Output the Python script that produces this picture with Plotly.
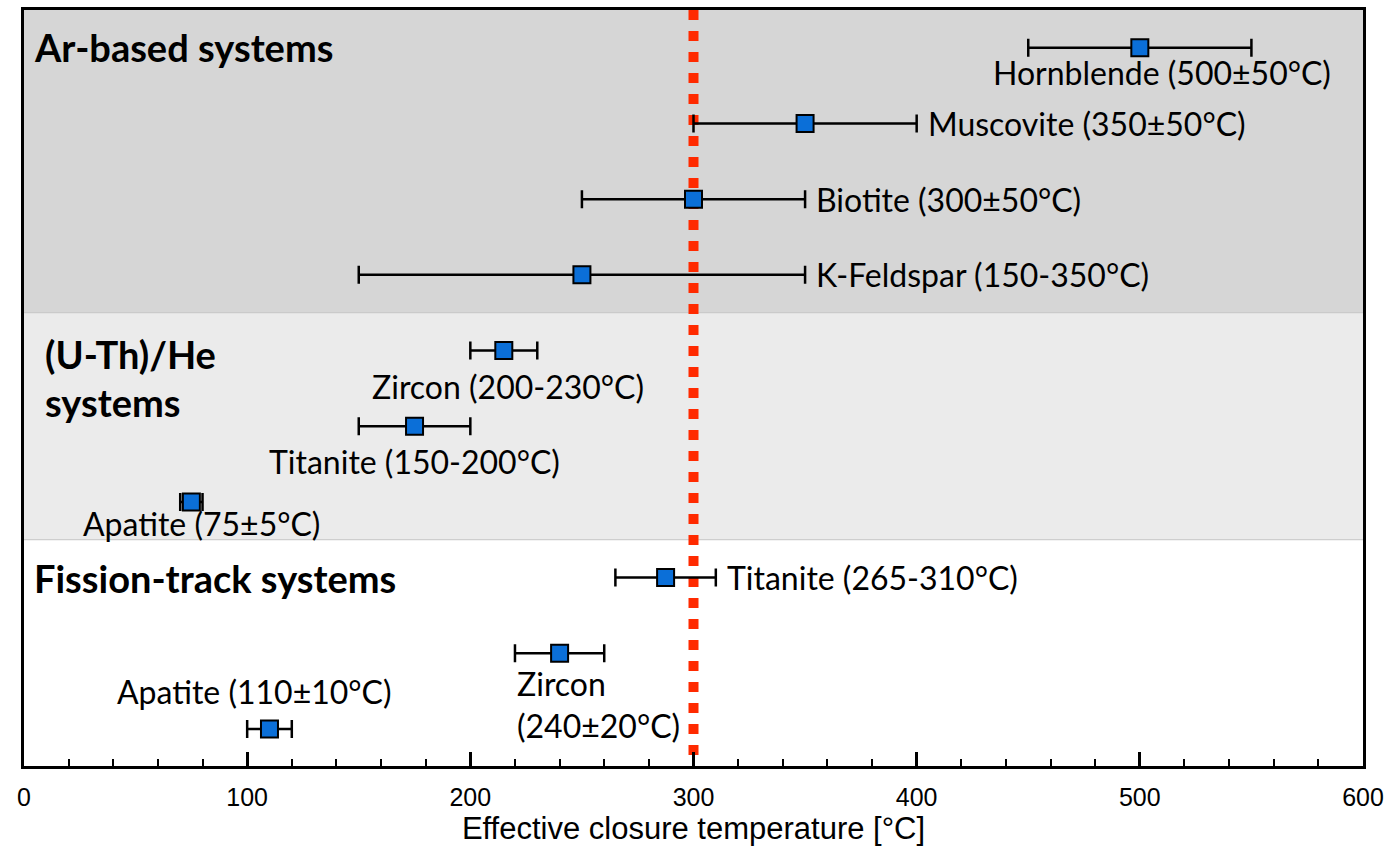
import plotly.graph_objects as go

# ---------------- data ----------------
minerals = ["Hornblende", "Muscovite", "Biotite", "K-Feldspar",
            "Zircon", "Titanite", "Apatite",
            "Titanite", "Zircon", "Apatite"]
temps = [500, 350, 300, 250, 215, 175, 75, 287.5, 240, 110]
t_low = [450, 300, 250, 150, 200, 150, 70, 265, 220, 100]
t_high = [550, 400, 350, 350, 230, 200, 80, 310, 260, 120]
labels = ["Hornblende (500±50°C)", "Muscovite (350±50°C)", "Biotite (300±50°C)",
          "K-Feldspar (150-350°C)", "Zircon (200-230°C)", "Titanite (150-200°C)",
          "Apatite (75±5°C)", "Titanite (265-310°C)", "Zircon<br>(240±20°C)",
          "Apatite (110±10°C)"]
groups = ["Ar-based systems", "(U-Th)/He", "systems", "Fission-track systems"]
reference_temp = 300
x_ticks = [0, 100, 200, 300, 400, 500, 600]

rows = list(range(len(minerals)))

# ---------------- layout helpers (positions, not data) ----------------
# (mode, x_anchor_data, yshift_px)
label_place = [
    ("center", 510, -25),
    ("right", None, 0),
    ("right", None, 0),
    ("right", None, 0),
    ("center", 217, -36),
    ("center", 175, -35),
    ("center", 79.5, -22),
    ("right", None, 0),
    ("left", 220, -51),
    ("center", 103.5, 37),
]
group_place = [(3.6, 0, 1), (8.6, 4, -3), (8.6, 4, -51), (3.6, 7, 0)]

fig = go.Figure()

# bands
fig.add_shape(type="rect", xref="paper", yref="y", x0=0, x1=1, y0=-0.5, y1=3.5,
              fillcolor="#d6d6d6", line_width=0, layer="below")
fig.add_shape(type="rect", xref="paper", yref="y", x0=0, x1=1, y0=3.5, y1=6.5,
              fillcolor="#ebebeb", line_width=0, layer="below")
fig.add_shape(type="line", xref="paper", yref="y", x0=0, x1=1, y0=3.5, y1=3.5,
              line=dict(color="#c4c4c4", width=1), layer="below")
fig.add_shape(type="line", xref="paper", yref="y", x0=0, x1=1, y0=6.5, y1=6.5,
              line=dict(color="#c4c4c4", width=1), layer="below")

# reference line
fig.add_trace(go.Scatter(x=[reference_temp, reference_temp], y=[-0.5, 9.49], mode="lines",
                         line=dict(color="#ff2a00", width=10, dash="10px,11px"),
                         hoverinfo="skip", showlegend=False))

fig.add_trace(go.Scatter(
    x=temps, y=rows, mode="markers",
    marker=dict(symbol="square", size=17, color="#0b6fd8",
                line=dict(color="black", width=2)),
    error_x=dict(type="data", symmetric=False,
                 array=[h - t for h, t in zip(t_high, temps)],
                 arrayminus=[t - l for t, l in zip(temps, t_low)],
                 color="black", thickness=2.5, width=9),
    text=minerals, hoverinfo="text+x", showlegend=False))

annos = []
lab_font = dict(family="Lato, Carlito, sans-serif", size=32, color="black")
for i, (mode, xa, ys) in enumerate(label_place):
    if mode == "right":
        annos.append(dict(x=t_high[i], y=rows[i], xref="x", yref="y", text=labels[i],
                          showarrow=False, xanchor="left", yanchor="middle", xshift=9,
                          font=lab_font))
    elif mode == "center":
        annos.append(dict(x=xa, y=rows[i], xref="x", yref="y", text=labels[i],
                          showarrow=False, xanchor="center", yanchor="middle", yshift=ys,
                          font=lab_font))
    else:
        annos.append(dict(x=xa, y=rows[i], xref="x", yref="y", text=labels[i],
                          showarrow=False, xanchor="left", yanchor="middle", yshift=ys,
                          align="left", font=lab_font))

grp_font = dict(family="Lato, Carlito, sans-serif", size=38, color="black")
for g, (xa, r, ys) in zip(groups, group_place):
    annos.append(dict(x=xa, y=r, xref="x", yref="y", text="<b>" + g + "</b>",
                      showarrow=False, xanchor="left", yanchor="middle", yshift=ys,
                      font=grp_font))

fig.update_layout(
    width=1391, height=847,
    margin=dict(l=24, r=28, t=7, b=81),
    paper_bgcolor="white", plot_bgcolor="white",
    annotations=annos, showlegend=False,
    xaxis=dict(range=[0, 600], tickvals=x_ticks, ticktext=[str(v) for v in x_ticks],
               ticks="inside", ticklen=14, tickwidth=2.5, tickcolor="black",
               showline=True, linecolor="black", linewidth=3, mirror=True,
               showgrid=False, zeroline=False,
               tickfont=dict(family="Liberation Sans, Arial, sans-serif", size=25, color="black"),
               ticklabelstandoff=7,
               minor=dict(dtick=20, ticks="inside", ticklen=7, tickwidth=2, tickcolor="black",
                          showgrid=False),
               title=dict(text="Effective closure temperature [°C]", standoff=6,
                          font=dict(family="Liberation Sans, Arial, sans-serif", size=31,
                                    color="black"))),
    yaxis=dict(range=[9.49, -0.5], showticklabels=False, ticks="", showgrid=False,
               zeroline=False, showline=True, linecolor="black", linewidth=3, mirror=True),
)

fig.write_html("out.html", config={"displayModeBar": False},
               post_script="document.body.style.margin='0px';")
